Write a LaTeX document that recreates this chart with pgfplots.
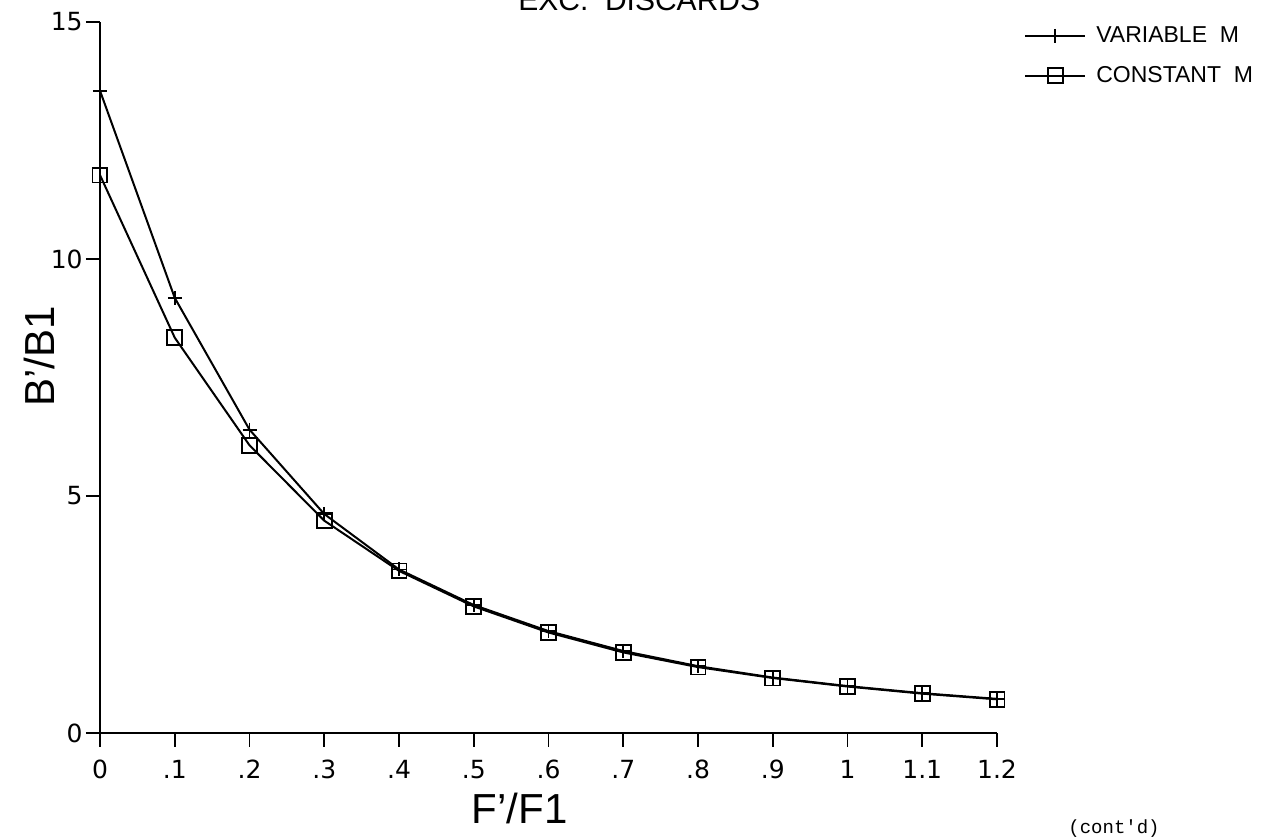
\documentclass[border=0pt]{standalone}
\usepackage{fontspec}
\setmainfont{Liberation Sans}
\setmonofont{Liberation Mono}
\newfontfamily\tickfont{DejaVu Sans}
\usepackage{pgfplots}
\pgfplotsset{compat=1.18}

\begin{document}
\begin{tikzpicture}
\begin{axis}[name=main, at={(0,0)}, anchor=south west,
  scale only axis, width=448.5pt, height=355.5pt,
  xmin=0, xmax=1.2, ymin=0, ymax=15,
  axis lines*=left, tick align=outside, major tick length=7pt,
  axis line style={line width=0.9pt}, every tick/.style={line width=0.9pt, black},
  xtick={0,0.1,0.2,0.3,0.4,0.5,0.6,0.7,0.8,0.9,1,1.1,1.2},
  xticklabels={0,.1,.2,.3,.4,.5,.6,.7,.8,.9,1,1.1,1.2},
  ytick={0,5,10,15},
  /pgf/number format/assume math mode=true,
  tick label style={font=\tickfont\fontsize{12.5}{14}\selectfont},
  xticklabel style={yshift=-3pt},
  yticklabel style={inner xsep=1.5pt},
  xlabel={F'/F1}, ylabel={B'/B1},
  xlabel style={font=\fontsize{21}{24}\selectfont,
    at={(axis description cs:0.468,-0.106)}, anchor=center},
  ylabel style={font=\fontsize{21}{24}\selectfont,
    at={(axis description cs:-0.067,0.53)}, anchor=center},
  legend style={draw=none, fill=none, at={(1.03,1.0)}, anchor=north west,
    font=\fontsize{11.5}{14}\selectfont, row sep=6.5pt, column sep=3pt, inner sep=0pt},
  legend cell align=left,
  legend image code/.code={
    \draw[mark repeat=2, mark phase=2, #1] plot coordinates {(0pt,0pt) (15pt,0pt) (30pt,0pt)};},
  clip=false]
\addplot[black, line width=1pt, mark=+, mark size=3.5pt, mark options={line width=0.9pt}]
  coordinates {(0,13.55)(0.1,9.18)(0.2,6.40)(0.3,4.62)(0.4,3.45)(0.5,2.70)(0.6,2.15)
  (0.7,1.73)(0.8,1.41)(0.9,1.17)(1.0,0.99)(1.1,0.84)(1.2,0.72)};
\addlegendentry{VARIABLE\ \ M}
\addplot[black, line width=1pt, mark=square, mark size=3.7pt, mark options={line width=0.9pt}]
  coordinates {(0,11.77)(0.1,8.34)(0.2,6.07)(0.3,4.48)(0.4,3.42)(0.5,2.67)(0.6,2.12)
  (0.7,1.70)(0.8,1.39)(0.9,1.16)(1.0,0.98)(1.1,0.83)(1.2,0.71)};
\addlegendentry{CONSTANT\ \ M}
\end{axis}
\path[use as bounding box] (-50pt,-53pt) rectangle (584pt,366.5pt);
\node[anchor=base west, inner sep=0pt, font=\fontsize{15}{18}\selectfont] at (209pt,361.25pt) {EXC.\ \ DISCARDS};
\node[anchor=base west, inner sep=0pt, font=\ttfamily\fontsize{9.5}{11}\selectfont] at (484pt,-50.5pt) {(cont'd)};
\end{tikzpicture}
\end{document}
